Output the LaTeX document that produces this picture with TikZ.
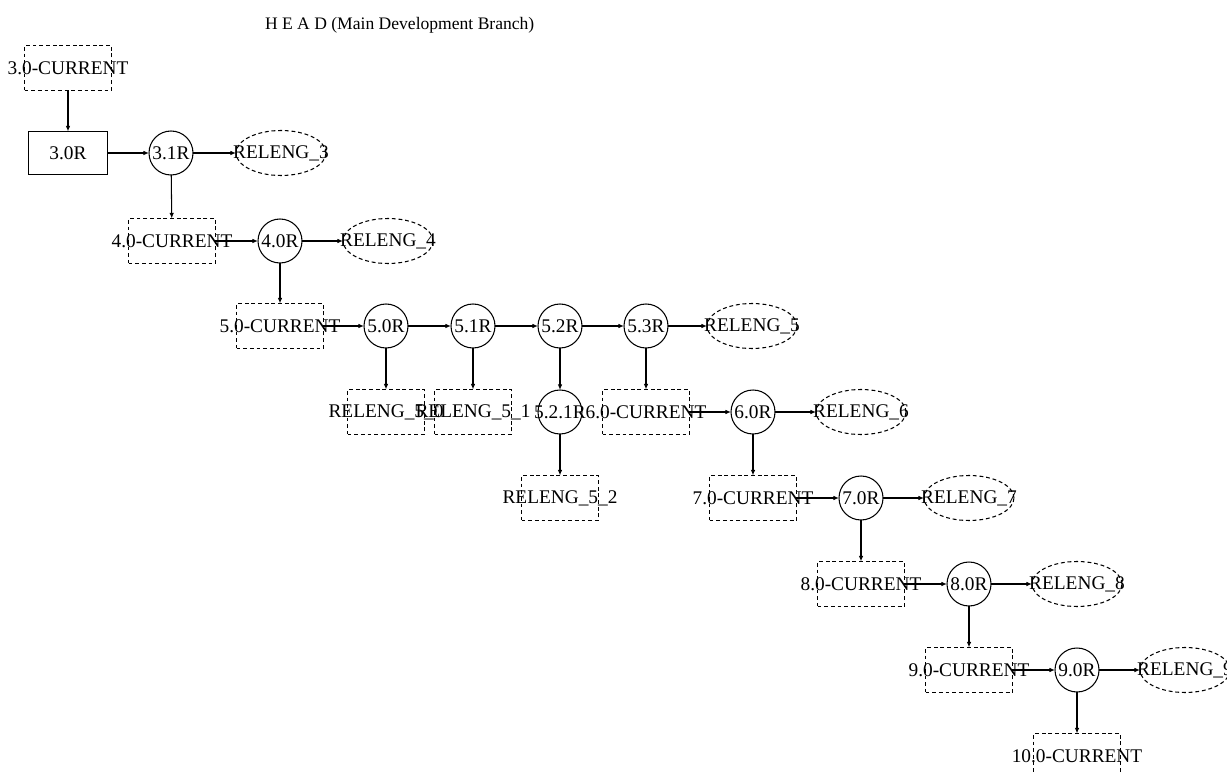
\documentclass[tikz,border=0pt]{standalone}
\usepackage{fontspec}
\setmainfont{Liberation Serif}
\usetikzlibrary{arrows.meta,shapes.geometric}
\begin{document}
\begin{tikzpicture}[x=0.02cm,y=-0.02cm,
  line width=0.6pt,
  every node/.style={inner sep=0pt,outer sep=0pt},
  lbl/.style={font=\fontsize{11}{13}\selectfont,inner sep=0pt},
  dsh/.style={dash pattern=on 2.2pt off 1.6pt},
  curbox/.style={draw,dsh,rectangle,minimum width=1.74cm,minimum height=0.9cm},
  relbox/.style={draw,dsh,rectangle,minimum width=1.54cm,minimum height=0.9cm},
  rootbox/.style={draw,rectangle,minimum width=1.58cm,minimum height=0.86cm},
  ver/.style={draw,circle,minimum size=0.88cm},
  tagell/.style={draw,dsh,ellipse,minimum width=1.8cm,minimum height=0.9cm},
  edge/.style={-{Latex[length=3.2pt,width=2.6pt]}}]
\useasboundingbox (0,0) rectangle (1227,773);
\node[anchor=base west,font=\fontsize{10}{12}\selectfont] (title) at (265,30) {H E A D (Main Development Branch)};
% versions and branches
\node[curbox,label={[lbl]center:3.0-CURRENT}] (c30) at (68,68) {};
\node[rootbox,label={[lbl]center:3.0R}] (r30) at (68,153) {};
\node[ver,label={[lbl]center:3.1R}] (r31) at (171,153) {};
\node[tagell,label={[lbl]center:RELENG\_3}] (t3) at (281,153) {};
\node[curbox,label={[lbl]center:4.0-CURRENT}] (c40) at (172,241) {};
\node[ver,label={[lbl]center:4.0R}] (r40) at (280,241) {};
\node[tagell,label={[lbl]center:RELENG\_4}] (t4) at (388,241) {};
\node[curbox,label={[lbl]center:5.0-CURRENT}] (c50) at (280,326) {};
\node[ver,label={[lbl]center:5.0R}] (r50) at (386,326) {};
\node[ver,label={[lbl]center:5.1R}] (r51) at (473,326) {};
\node[ver,label={[lbl]center:5.2R}] (r52) at (560,326) {};
\node[ver,label={[lbl]center:5.3R}] (r53) at (646,326) {};
\node[tagell,label={[lbl]center:RELENG\_5}] (t5) at (752,326) {};
\node[relbox,label={[lbl]center:RELENG\_5\_0}] (b50) at (386,412) {};
\node[relbox,label={[lbl]center:RELENG\_5\_1}] (b51) at (473,412) {};
\node[ver,label={[lbl]center:5.2.1R}] (r521) at (560,412) {};
\node[curbox,label={[lbl]center:6.0-CURRENT}] (c60) at (646,412) {};
\node[ver,label={[lbl]center:6.0R}] (r60) at (753,412) {};
\node[tagell,label={[lbl]center:RELENG\_6}] (t6) at (861,412) {};
\node[relbox,label={[lbl]center:RELENG\_5\_2}] (b52) at (560,498) {};
\node[curbox,label={[lbl]center:7.0-CURRENT}] (c70) at (753,498) {};
\node[ver,label={[lbl]center:7.0R}] (r70) at (861,498) {};
\node[tagell,label={[lbl]center:RELENG\_7}] (t7) at (969,498) {};
\node[curbox,label={[lbl]center:8.0-CURRENT}] (c80) at (861,584) {};
\node[ver,label={[lbl]center:8.0R}] (r80) at (969,584) {};
\node[tagell,label={[lbl]center:RELENG\_8}] (t8) at (1077,584) {};
\node[curbox,label={[lbl]center:9.0-CURRENT}] (c90) at (969,670) {};
\node[ver,label={[lbl]center:9.0R}] (r90) at (1077,670) {};
\node[tagell,label={[lbl]center:RELENG\_9}] (t9) at (1185,670) {};
\node[curbox,label={[lbl]center:10.0-CURRENT}] (c100) at (1077,756) {};
% connectors
\draw[edge] (c30) -- (r30);
\draw[edge] (r30) -- (r31);
\draw[edge] (r31) -- (t3);
\draw[edge] (r31) -- (c40);
\draw[edge] (c40) -- (r40);
\draw[edge] (r40) -- (t4);
\draw[edge] (r40) -- (c50);
\draw[edge] (c50) -- (r50);
\draw[edge] (r50) -- (r51);
\draw[edge] (r51) -- (r52);
\draw[edge] (r52) -- (r53);
\draw[edge] (r53) -- (t5);
\draw[edge] (r50) -- (b50);
\draw[edge] (r51) -- (b51);
\draw[edge] (r52) -- (r521);
\draw[edge] (r521) -- (b52);
\draw[edge] (r53) -- (c60);
\draw[edge] (c60) -- (r60);
\draw[edge] (r60) -- (t6);
\draw[edge] (r60) -- (c70);
\draw[edge] (c70) -- (r70);
\draw[edge] (r70) -- (t7);
\draw[edge] (r70) -- (c80);
\draw[edge] (c80) -- (r80);
\draw[edge] (r80) -- (t8);
\draw[edge] (r80) -- (c90);
\draw[edge] (c90) -- (r90);
\draw[edge] (r90) -- (t9);
\draw[edge] (r90) -- (c100);
\end{tikzpicture}
\end{document}
